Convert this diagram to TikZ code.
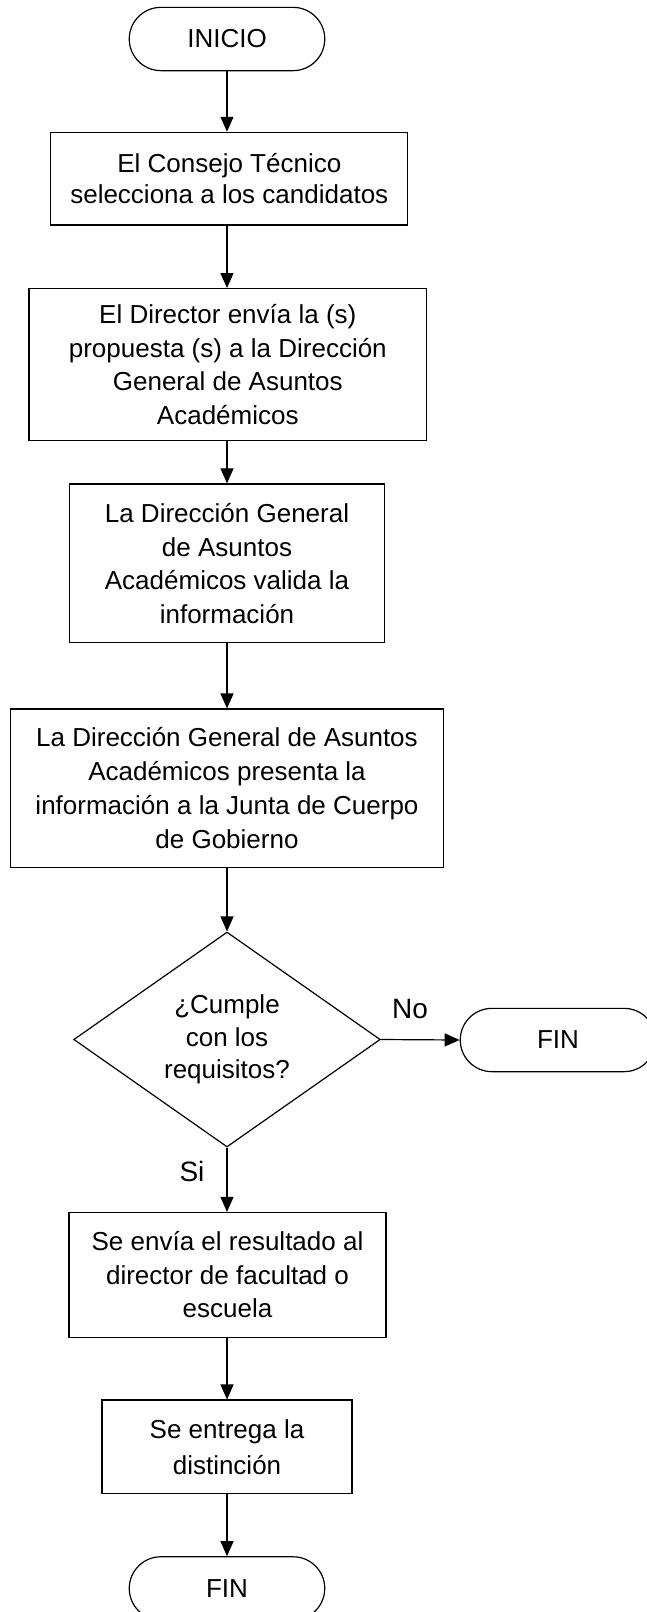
\documentclass[tikz,border=0pt]{standalone}
\usepackage{fontspec}
\setmainfont{Liberation Sans}
\usetikzlibrary{shapes.geometric,shapes.misc,arrows.meta}
\begin{document}
\begin{tikzpicture}[x=1pt,y=-1pt,
  proc/.style={draw, line width=1.2pt, rectangle, align=center, inner sep=0pt, font=\fontsize{26}{33.5}\selectfont},
  term/.style={draw, rounded rectangle, line width=1.2pt, minimum width=195.5pt, minimum height=63.3pt, inner sep=0pt, font=\fontsize{26}{31}\selectfont},
  dec/.style={draw, diamond, line width=1.2pt, minimum width=306.6pt, minimum height=213.3pt, inner sep=0pt, align=center, font=\fontsize{26}{32.5}\selectfont},
  lbl/.style={font=\fontsize{28}{32}\selectfont, inner sep=0pt},
  conn/.style={line width=1.2pt, -{Triangle[length=15pt,width=13pt]}}]
\useasboundingbox (0,0) rectangle (647,1612);
\clip (0,0) rectangle (647,1612);
\fill[white] (0,0) rectangle (647,1612);

\node[term] (ini) at (227,39) {INICIO};
\node[proc, minimum width=357pt, minimum height=92.7pt, font=\fontsize{26}{30.7}\selectfont] (b1) at (229.3,178.7) {El Consejo Técnico\\selecciona a los candidatos};
\node[proc, minimum width=397.8pt, minimum height=151.7pt] (b2) at (227.8,364.5) {El Director envía la (s)\\propuesta (s) a la Dirección\\General de Asuntos\\Académicos};
\node[proc, minimum width=315.3pt, minimum height=158.7pt] (b3) at (227,563.3) {La Dirección General\\de Asuntos\\Académicos valida la\\información};
\node[proc, minimum width=433pt, minimum height=158.3pt, font=\fontsize{26}{33.9}\selectfont] (b4) at (227,788.2) {La Dirección General de Asuntos\\Académicos presenta la\\información a la Junta de Cuerpo\\de Gobierno};
\node[dec] (d) at (227,1039.5) {¿Cumple\\con los\\requisitos?};
\node[term] (fin1) at (558,1040) {FIN};
\node[proc, minimum width=316.9pt, minimum height=125pt] (b5) at (227.5,1275) {Se envía el resultado al\\director de facultad o\\escuela};
\node[proc, minimum width=250.1pt, minimum height=93.3pt, font=\fontsize{26}{36}\selectfont] (b6) at (227,1446.7) {Se entrega la\\distinción};
\node[term] (fin2) at (227,1588.4) {FIN};
\node[lbl] (no) at (410,1009) {No};
\node[lbl] (si) at (192,1171.5) {Si};

\draw[conn] (ini.south) -- (ini.south |- b1.north);
\draw[conn] (b1.south -| ini.south) -- (ini.south |- b2.north);
\draw[conn] (b2.south -| ini.south) -- (ini.south |- b3.north);
\draw[conn] (b3.south) -- (b4.north);
\draw[conn] (b4.south) -- (d.north);
\draw[conn] (d.east) -- (fin1.west);
\draw[conn] (d.south) -- (d.south |- b5.north);
\draw[conn] (b5.south -| b6.north) -- (b6.north);
\draw[conn] (b6.south) -- (fin2.north);
\end{tikzpicture}
\end{document}
